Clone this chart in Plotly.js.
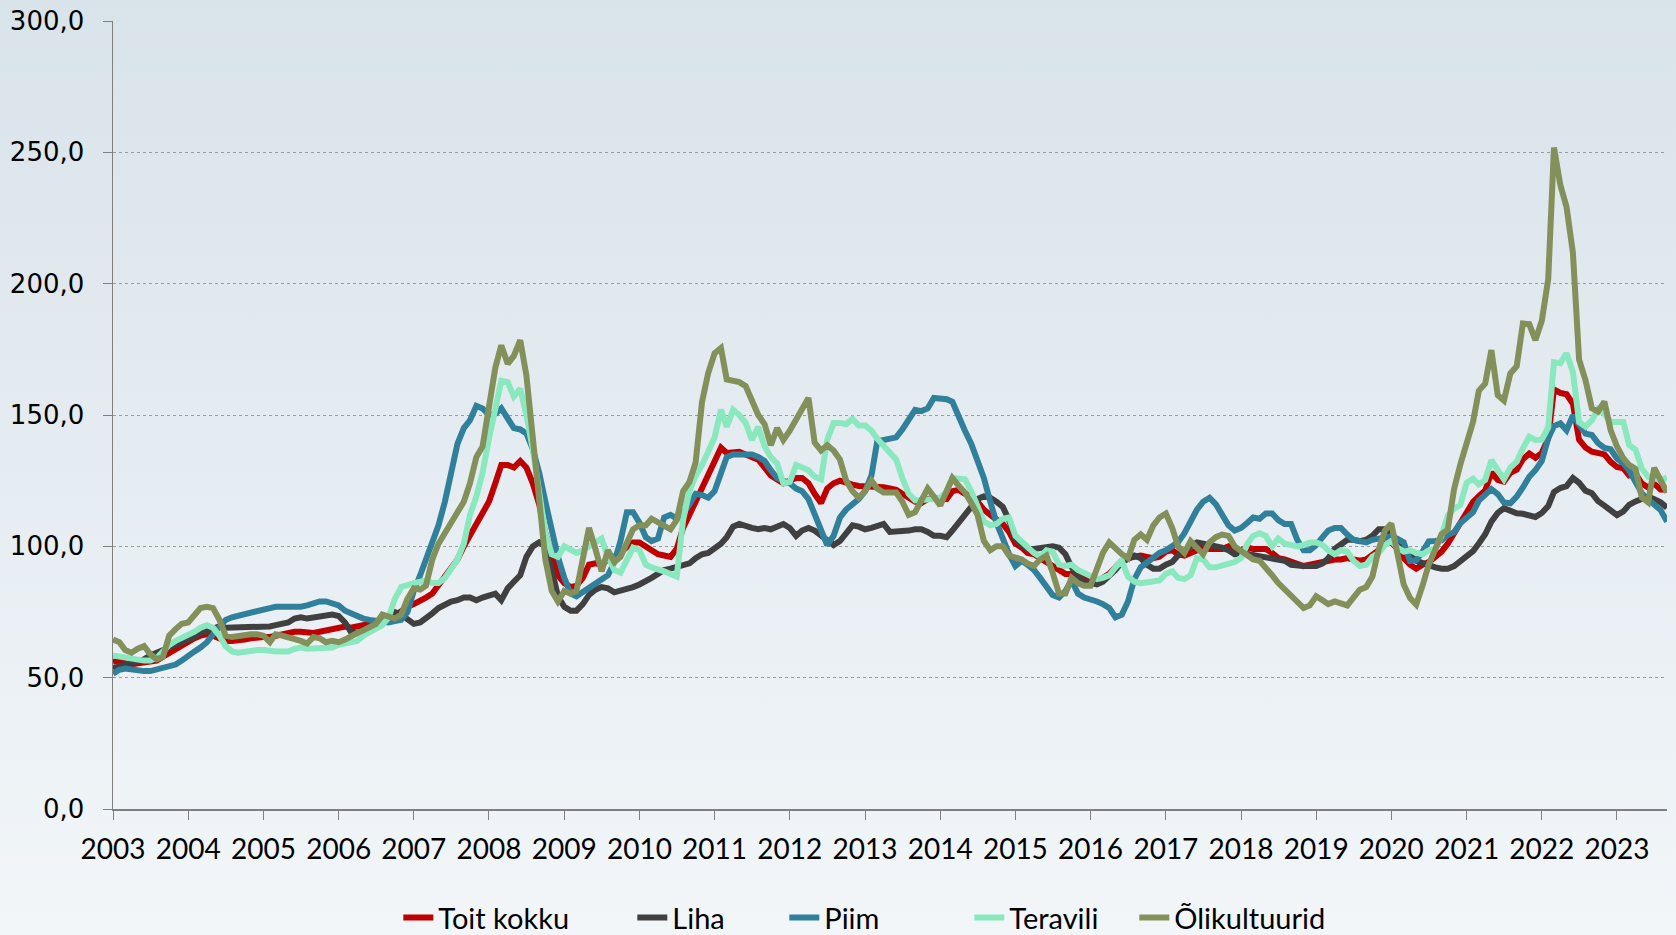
<!DOCTYPE html>
<html>
<head>
<meta charset="utf-8">
<script src="https://cdn.plot.ly/plotly-3.0.1.min.js"></script>
<style>
html,body{margin:0;padding:0;}
body{width:1676px;height:935px;background:linear-gradient(#d9e3ea,#f2f6f9);}
#chart{width:1676px;height:935px;}
</style>
</head>
<body>
<div id="chart"></div>
<script>
// Monthly series, Jan 2003 .. Sep 2023
const startYear = 2003;
const seriesNames = ["Toit kokku", "Liha", "Piim", "Teravili", "Õlikultuurid"];

const toitKokku = [
56,56.5,55.5,55,55.5,56,56,56.5,58,59.5,61,62.5,
64,65,66,66.5,66,65,64,64,64,64.5,65,65.5,
65.5,65.5,66,66.5,67,67.5,67.5,67,67,67.5,68,68.5,
69.3,69.5,69,69.5,70.5,70.5,71,72,72,73.5,75.5,77,
78,79,80.5,82,85,88,91,95,100,104,108,112,
117,124,131,131,130,132.5,130,124,116,105,96,89,
86,84.5,85,88,93,93.5,93,95,96,98,100,101.5,
101.5,100,98,97,96.5,96,99,107,112,117,122,128,
133,137.5,135.5,136,136,135,134,133,130,127,125.5,124,
125,126,126,124,120,116.5,122,124,125,124,123.5,123,
123,123,122.5,122.5,122,121.5,120,118.5,117,116.5,118,118.5,
118.5,118,121,121.5,120,119,117,114,112,110,108.5,105.5,
101,99.5,97.5,97,95.5,94.5,93,91,89.5,89.5,88.5,88,
87.5,86,88,89.5,92,94.5,95.5,96,96.5,96,95.5,96,
98,98.5,97,96.5,97.5,98.5,99.5,99,99,99,100,98.5,
98.5,99.5,99,99,99,97.5,95.5,95,94,93.5,92.5,93,
93.5,94.5,94.5,95,95,95.5,95,94.5,95,96.5,98.5,101,
101.5,99,95.5,93,91.5,93,94,96,98,101,105,108.5,
113.5,116.9,119.1,121.3,128.1,125.3,124.6,128.0,129.2,133.2,135.3,133.7,
135.6,141.1,159.7,158.4,157.9,154.3,140.6,137.6,136.0,135.4,135.0,132.2,
130.2,129.7,127.0,127.7,124.0,122.4,123.9,121.6,121.5];

const liha = [
53.5,54.5,55,55.5,56,57,58.5,59.5,60,61,62,63,
64,65.5,67,68,69,69.5,69,69,69,69,69,69,
69,69.5,70,70.5,71,72.5,73,72.5,73,73.5,73.5,74,
73.5,71,67.5,67,68,69.5,71,72.5,74,75,74,72.5,
70.5,71,72.5,74.5,76.5,78,79,79.5,80.5,80.5,79.5,80.5,
81.5,82,79.5,84,86.5,89,96,100,101.5,100,91,81,
77,75.5,75.5,78,81.5,83.5,84.5,84,82.5,83,84,84.5,
85.5,86.5,88,89.5,91,91.5,92,92.5,93.5,95.5,97,97.5,
99,101,103.5,107.5,108.5,107.5,107,106.5,107,106.5,107.5,108.5,
107,104,106,107,106,104,102,100.5,102,105,108,107.5,
106.5,107,108,108.5,105.5,105.5,105.5,106,106.5,106.5,105.5,104,
104,103.5,106,109,112,115.5,118,119,118.5,117,115,110,
103,100.5,99,99,99.5,100,100,99.5,97,92,88.5,86.5,
86,85.5,86.5,88.5,91,94,95.5,96.5,95.5,93,91.5,91.5,
93,94,96.5,98.5,100,101.5,101,100.5,100.5,99.5,98.5,97,
97.5,97,96.5,96,96,95.5,95,94.5,93,92.5,92.5,92.5,
92.5,93.5,95.5,99,101,102.5,102.5,102,102.5,104,106.5,106.5,
105,102,99,96.5,94.5,93.5,92.5,92,91.5,91.5,92.5,94.5,
96.4,98.2,101.1,104.6,109.4,112.7,114.5,113.3,112.6,112.4,111.7,111.2,
112.7,115.3,120.7,122.2,122.9,126.0,124.2,121.2,120.2,117.2,115.5,113.8,
111.9,113.3,115.8,117.1,118.3,119.0,117.9,116.8,114.7];

const piim = [
51.5,53,53.5,53,52.5,52.5,52.5,53,53.5,54,55,56.5,
58.5,60,61.5,63.5,66.5,69.5,72,73,73.5,74.5,75,75.5,
76,76.5,77,77,76.5,77,77,77.5,78.5,79,79,78.5,
77.5,75.5,74.5,73.5,72.5,72,71.5,71,71,71.5,72,75,
83,89,95,102,108,117,129,139,145,148,153.5,152.5,
150,150.5,152.5,149,145,144.5,143,137,128,117,106,96,
88,82,81,82.5,84.5,85.5,87,89,94,102,113,113,
109,103.5,102,103,111,112,110.5,112.5,116,120,119.5,118.5,
121,128,134,135,135,134.5,135,134,132.5,129,126,125,
124,122,121,118,112,105,100.5,104,111,114,116,118,
121,127,140,140.5,141,141.5,144.5,148,152,151.5,152.5,156.5,
156.5,156,155,149,144,139,133,126,117,109,103,97,
92.5,94.5,93,91,88,84.5,81.5,80.5,83,87,82,80.5,
80,79,78,76.5,73,74,79,87.5,92,94,96,97.5,
98.5,100,101.5,105,110,114,117,118.5,116,111.5,108,106,
107,109,111,110.5,112.5,112.5,110,108.5,108.5,102.5,98.5,98.5,
100.5,103.5,106,107,107,104.5,102.5,102,101.5,102.5,103,103,
103.8,102.8,101.5,94.4,94.7,98.0,101.9,102.0,102.3,104.3,105.4,108.8,
111.0,113.0,117.4,119.9,121.8,119.9,116.7,116.4,118.9,122.4,126.5,129.0,
132.5,141.2,145.8,146.8,144.2,149.8,146.4,142.9,142.4,139.3,137.5,137.0,
133.4,131.6,128.9,124.2,120.3,117.9,116.2,113.8,109.4];

const teravili = [
58.5,58,57.5,57,57,56.5,56.5,57.5,60,62.5,64,65,
66,67.5,69,70,69,66,62,60,59.5,60,60.5,60.5,
60.5,60,60,60,60,61,61.5,61,61,61,61,61.5,
62.5,63,63.5,64,66,67.5,68.5,70,73,80,84.5,85.5,
86,86.5,87,86,86,88,91,95,101,112,119,128,
141,152,163,162.5,157,160,150,137,122,105,97,96,
100,99,97.5,98.5,100,102,103,96,91,90,95,99.5,
98.5,93,92,91.5,90.5,89.5,88.5,110,121,127,131,136,
141.5,152,145.5,152,150,147,140.5,145.5,138,134,131.5,124,
124.5,131,130,129,126.5,125.5,140.5,147,147,146.5,148.5,146,
146,144,141,138,136,133,126,120,117.5,117.5,117.5,118,
118.5,121,126,126,125.5,121,115,109.5,108,108.5,110.5,111,
104,101.5,99.5,97.5,96,98.5,98,93,92.5,93,91,90,
88.5,87.5,88,89,92,94.5,88.5,86.5,86,86.5,86.5,87,
89.5,90.5,88,87.5,89,95.5,95,92,92,92.5,93,94,
95.5,101,104,105,104,100,103,101,100.5,100,100.5,101.5,
101.5,100.5,98.5,97,98.5,98,94.5,92.5,93,96,97.5,100.5,
102,99.5,98,98.5,97.5,97,98.5,99,104,111.6,114.4,115.7,
124.2,125.7,123.6,125.3,132.8,129.3,125.5,130.0,132.2,137.3,141.7,140.5,
140.6,145.3,170.1,169.7,173.5,166.3,147.3,145.6,147.9,152.3,150.4,147.3,
147.5,147.3,138.6,136.8,129.7,126.5,126.0,125.0,126.3];

const olikultuurid = [
64.5,63.5,60.5,59.5,61,62,59,57,58,66,68.5,70.5,
71,74,76.5,77,76.5,72,66,65.5,66,66,66.5,66.5,
66,63.5,66.5,66,65.5,65,64,63,65.5,65,63.5,64,
63.5,64.5,66,67,68,69,70.5,74,73,72.5,74,80,
84,83.5,85,95,101,105,108,113,117,124,134,138,
152,168,176.5,169.5,172.5,178.5,165,142,117,95,83,79,
83,82,83,94,107,99,90.5,98.5,94,96,101,106.5,
108,108,110.5,109,108,106.5,110,121,124.5,132,155,166,
173.5,175.5,163.5,163,162.5,161,155,150,146.5,138.5,145,140.5,
144,148,152,156.5,139.5,136.5,138.5,136.5,133,125,121,118.5,
121,125,122,120.5,120.5,120.5,117,112,113,118,122,119,
115.5,121,126,123,120.5,116.5,112,102,98.5,100,100,96.5,
96,95,93.5,92.5,95,96.5,90,82,82,88,86,85,
85,91,97.5,101.5,99,97,95.5,102.5,104.5,102.5,108,111,
112.5,107,100,97.5,102,99,97,101.5,103.5,104.5,104,100,
98.5,96.5,95,94.5,92,89,86,83.5,81.5,78.5,76.5,77.5,
81,79.5,78,79,78.5,77.5,80.5,83.5,84.5,88.5,99,106,
108.7,97.3,85.5,80.3,77.8,85.1,93.2,98.7,104.6,106.4,121.9,131.1,
138.8,147.4,159.2,162.0,174.7,157.5,155.5,165.8,168.6,184.8,184.6,178.5,
185.9,201.7,251.8,237.5,229.2,211.8,171.1,163.3,152.6,151.3,155.1,144.3,
138.0,133.5,131.0,129.5,118.7,116.8,129.9,125.5,120.5];

const yTickVals = [0, 50, 100, 150, 200, 250, 300];
const yTickText = ["0,0", "50,0", "100,0", "150,0", "200,0", "250,0", "300,0"];
const xTickYears = [2003,2004,2005,2006,2007,2008,2009,2010,2011,2012,2013,2014,2015,2016,2017,2018,2019,2020,2021,2022,2023];

const colors = ["#c00000", "#404040", "#31809b", "#8ae8bf", "#83905a"];
const legendWidths = [189, 107, 140, 120, 160];
const allSeries = [toitKokku, liha, piim, teravili, olikultuurid];

function monthDates(n) {
  const out = [];
  for (let i = 0; i < n; i++) {
    const y = startYear + Math.floor(i / 12);
    const m = (i % 12) + 1;
    out.push(y + "-" + (m < 10 ? "0" + m : m) + "-01");
  }
  return out;
}

const traces = allSeries.map((vals, k) => ({
  type: "scatter",
  mode: "lines",
  name: seriesNames[k],
  x: monthDates(vals.length),
  y: vals,
  line: {color: colors[k], width: 6},
  legendwidth: legendWidths[k],
  hoverinfo: "skip"
}));

const condensed = "'Liberation Sans Narrow', 'Arial Narrow', Lato, sans-serif";

const layout = {
  width: 1676,
  height: 935,
  paper_bgcolor: "rgba(0,0,0,0)",
  plot_bgcolor: "rgba(0,0,0,0)",
  margin: {l: 113, r: 9, t: 21, b: 126, autoexpand: false},
  showlegend: true,
  legend: {
    orientation: "h",
    x: 0.1836, xanchor: "left",
    y: -0.138, yanchor: "middle",
    font: {family: condensed, size: 29, color: "#000"},
    bgcolor: "rgba(0,0,0,0)",
    borderwidth: 0,
    traceorder: "normal"
  },
  xaxis: {
    type: "date",
    range: ["2003-01-01", "2023-09-01"],
    tickvals: xTickYears.map(y => y + "-01-01"),
    ticktext: xTickYears.map(String),
    ticks: "outside",
    ticklen: 9,
    tickcolor: "#7f7f7f",
    showline: true,
    linecolor: "#7f7f7f",
    linewidth: 1.5,
    showgrid: false,
    zeroline: false,
    tickfont: {family: condensed, size: 28, color: "#000"},
    ticklabelstandoff: 6,
    fixedrange: true
  },
  yaxis: {
    range: [0, 300],
    tickvals: yTickVals,
    ticktext: yTickText,
    ticks: "outside",
    ticklen: 9,
    tickcolor: "#7f7f7f",
    showline: true,
    linecolor: "#7f7f7f",
    linewidth: 1.5,
    showgrid: true,
    gridcolor: "#9a9a9a",
    griddash: "dot",
    gridwidth: 1,
    zeroline: false,
    tickfont: {family: "'DejaVu Sans', Verdana, sans-serif", size: 26, color: "#000"},
    ticklabelstandoff: 13,
    fixedrange: true
  },
  hovermode: false
};

Plotly.newPlot("chart", traces, layout, {displayModeBar: false, staticPlot: true});
</script>
</body>
</html>
